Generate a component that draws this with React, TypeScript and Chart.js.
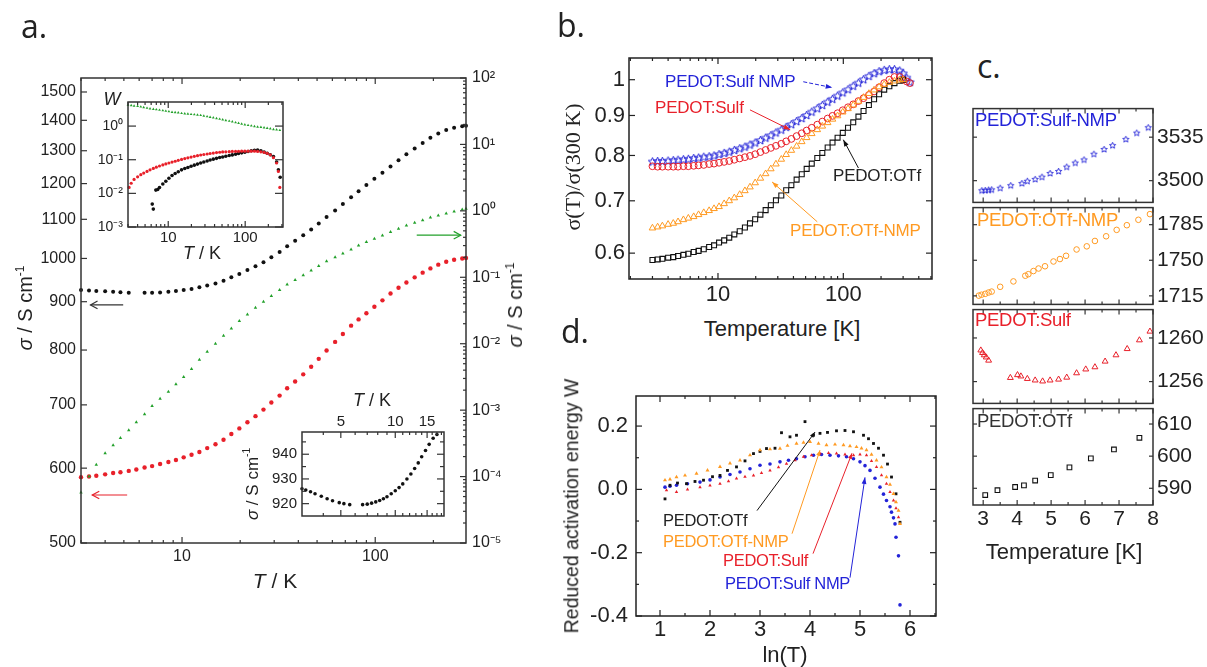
import React, { useEffect, useRef } from "react";
import { Chart, registerables } from "chart.js";
Chart.register(...registerables);

const SANS = '"Liberation Sans", Arial, sans-serif';
const SERIF = '"Liberation Serif", "Times New Roman", serif';
const HEAD = '"Open Sans", sans-serif';

const BLACK = "#111111";
const RED = "#e8202a";
const GREEN = "#22a02a";
const BLUE = "#2323d8";
const ORANGE = "#ff9a22";

// ================= Panel a (main) =================
const aTemp = [3.0, 3.3, 3.6, 4.0, 4.4, 4.8, 5.3, 5.8, 6.4, 7.0, 7.7, 8.5, 9.3, 10.2, 11.2, 12.3, 13.5, 14.9, 16.4, 18, 19.8, 21.8, 24, 26.4, 29, 32, 35, 38.5, 42.4, 46.6, 51, 56, 62, 68, 75, 82, 90, 99, 109, 120, 132, 145, 160, 176, 193, 212, 233, 256, 282, 295];
const aSigmaBlack = [926, 925, 924, 923, 922, 921, 920, null, 919.7, 920, 920.5, 922, 923.5, 926, 928.5, 932, 936, 941, 947, 955, 963, 972, 981, 991, 1003, 1016, 1030, 1044, 1058, 1073, 1089, 1106, 1124, 1142, 1161, 1178, 1196, 1214, 1232, 1251, 1270, 1289, 1307, 1325, 1342, 1356, 1367, 1375, 1380, 1382];
const aSigmaRed = [587, 588, 589, 591, 593, 594, 596, 598, 601, 603, 606, 609, 612, 616, 620, 624, 630, 636, 643, 652, 661, 671, 681, 692, 704, 716, 729, 741, 754, 768, 783, 799, 816, 832, 849, 862, 875, 889, 903, 918, 931, 943, 955, 966, 976, 985, 992, 997, 1000, 1001];
const aSigmaGreen = [5.75e-5, 1.0e-4, 1.51e-4, 2.24e-4, 2.95e-4, 3.8e-4, 5.0e-4, 6.6e-4, 8.7e-4, 1.15e-3, 1.48e-3, 1.9e-3, 2.45e-3, 3.16e-3, 4.17e-3, 5.75e-3, 7.6e-3, 0.010, 0.0132, 0.017, 0.0219, 0.0275, 0.0347, 0.0427, 0.0525, 0.0646, 0.0776, 0.0912, 0.107, 0.126, 0.148, 0.174, 0.2, 0.229, 0.263, 0.302, 0.339, 0.38, 0.427, 0.479, 0.537, 0.603, 0.661, 0.724, 0.794, 0.851, 0.912, 0.977, 1.047, 1.072];
const aXTicks = [10, 100];
const aXMinor = [3, 4, 5, 6, 7, 8, 9, 20, 30, 40, 50, 60, 70, 80, 90, 200];
const aYLeftTicks = [500, 600, 700, 800, 900, 1000, 1100, 1200, 1300, 1400, 1500];
const aYRightTicks = [1e-5, 1e-4, 1e-3, 1e-2, 1e-1, 1, 10, 100];

// inset W(T)
const wGreenT = [3.0, 3.3, 3.6, 4.0, 4.4, 4.8, 5.3, 5.8, 6.4, 7.0, 7.7, 8.5, 9.3, 10.2, 11.2, 12.3, 13.5, 14.9, 16.4, 18, 19.8, 21.8, 24, 26.4, 29, 32, 35, 38.5, 42.4, 46.6, 51, 56, 62, 68, 75, 82, 90, 99, 109, 120, 132, 145, 160, 176, 193, 212, 233, 256, 282];
const wGreen = [4.2, 4.1, 4.0, 3.9, 3.75, 3.6, 3.45, 3.3, 3.2, 3.1, 3.0, 2.9, 2.8, 2.7, 2.6, 2.55, 2.5, 2.4, 2.35, 2.3, 2.25, 2.2, 2.15, 2.1, 2.0, 1.92, 1.85, 1.78, 1.7, 1.62, 1.55, 1.48, 1.41, 1.35, 1.28, 1.22, 1.16, 1.1, 1.06, 1.02, 0.98, 0.95, 0.93, 0.9, 0.87, 0.84, 0.8, 0.78, 0.75];
const wRedT = [3.1, 3.3, 3.6, 4, 4.4, 4.8, 5.3, 5.8, 6.4, 7, 7.7, 8.5, 9.3, 10.2, 11.2, 12.3, 13.5, 14.9, 16.4, 18, 19.8, 21.8, 24, 26.4, 29, 32, 35, 38.5, 42.4, 46.6, 51, 56, 62, 68, 75, 82, 90, 99, 109, 120, 132, 145, 160, 176, 193, 212, 233, 256, 270, 282];
const wRed = [0.015, 0.02, 0.026, 0.031, 0.036, 0.04, 0.045, 0.05, 0.055, 0.06, 0.065, 0.07, 0.075, 0.08, 0.085, 0.09, 0.096, 0.102, 0.108, 0.114, 0.12, 0.126, 0.132, 0.138, 0.143, 0.148, 0.153, 0.158, 0.163, 0.167, 0.17, 0.172, 0.174, 0.176, 0.177, 0.178, 0.179, 0.18, 0.18, 0.18, 0.179, 0.177, 0.172, 0.165, 0.155, 0.14, 0.115, 0.08, 0.045, 0.015];
const wBlackT = [6.2, 6.4, 6.9, 7.3, 7.7, 8.5, 9.3, 10.2, 11.2, 12.3, 13.5, 14.9, 16.4, 18, 19.8, 21.8, 24, 26.4, 29, 32, 35, 38.5, 42.4, 46.6, 51, 56, 62, 68, 75, 82, 90, 99, 109, 120, 132, 145, 160, 176, 193, 212, 233, 256, 270, 285];
const wBlack = [0.0048, 0.0034, 0.0125, 0.013, 0.015, 0.019, 0.023, 0.028, 0.034, 0.039, 0.044, 0.05, 0.055, 0.059, 0.064, 0.069, 0.074, 0.08, 0.086, 0.092, 0.098, 0.104, 0.11, 0.116, 0.121, 0.127, 0.133, 0.139, 0.146, 0.153, 0.16, 0.168, 0.176, 0.185, 0.192, 0.195, 0.185, 0.17, 0.155, 0.14, 0.125, 0.085, 0.05, 0.03];
const wYTicks = [1e-3, 1e-2, 1e-1, 1];
const wXMinor = [3, 4, 5, 6, 7, 8, 9, 20, 30, 40, 50, 60, 70, 80, 90, 200, 300];

// inset low-T sigma
const lowT = [3.05, 3.2, 3.4, 3.6, 3.9, 4.2, 4.5, 4.9, 5.2, 5.6, 6.6, 7.0, 7.4, 7.8, 8.2, 8.6, 9.0, 9.5, 10.0, 10.5, 11.0, 11.6, 12.2, 12.8, 13.4, 14.0, 14.7, 15.4, 16.2, 17.0];
const lowSigma = [926, 925.5, 924.8, 924, 923, 922, 921.2, 920.4, 920, 919.6, 919.6, 919.8, 920.2, 920.7, 921.3, 922, 922.8, 924, 925.2, 926.5, 928, 930, 932, 934.2, 936.5, 939, 941.5, 944, 946.5, 948];
const lowXTicks = [5, 10, 15];
const lowXMinor = [4, 6, 7, 8, 9, 11, 12, 13, 14, 16, 17, 18];
const lowYTicks = [920, 930, 940];
const lowYMinor = [925, 935, 945];

// ================= Panel b =================
const bTemp = [3.0, 3.3, 3.6, 4.0, 4.4, 4.8, 5.3, 5.8, 6.4, 7.0, 7.7, 8.5, 9.3, 10.2, 11.2, 12.3, 13.5, 14.9, 16.4, 18, 19.8, 21.8, 24, 26.4, 29, 32, 35, 38.5, 42.4, 46.6, 51, 56, 62, 68, 75, 82, 90, 99, 109, 120, 132, 145, 160, 176, 193, 212, 233, 256, 282, 300, 320, 340];
const bOTf = [0.588, 0.589, 0.590, 0.592, 0.593, 0.595, 0.597, 0.599, 0.602, 0.604, 0.607, 0.611, 0.614, 0.619, 0.623, 0.628, 0.634, 0.640, 0.647, 0.655, 0.663, 0.672, 0.681, 0.691, 0.701, 0.711, 0.722, 0.733, 0.745, 0.757, 0.769, 0.781, 0.794, 0.806, 0.819, 0.831, 0.843, 0.855, 0.868, 0.882, 0.897, 0.912, 0.928, 0.944, 0.958, 0.971, 0.981, 0.99, 0.997, 1.0];
const bOTfNMP = [0.646, 0.648, 0.650, 0.653, 0.655, 0.658, 0.662, 0.665, 0.668, 0.672, 0.676, 0.680, 0.684, 0.688, 0.694, 0.700, 0.706, 0.713, 0.721, 0.729, 0.738, 0.748, 0.758, 0.769, 0.780, 0.791, 0.802, 0.812, 0.822, 0.833, 0.843, 0.853, 0.863, 0.872, 0.881, 0.89, 0.899, 0.909, 0.918, 0.928, 0.938, 0.949, 0.96, 0.97, 0.979, 0.986, 0.992, 0.996, 0.999, 1.0];
const bSulf = [0.775, 0.774, 0.774, 0.774, 0.774, 0.774, 0.775, 0.775, 0.776, 0.777, 0.778, 0.780, 0.781, 0.783, 0.785, 0.787, 0.790, 0.793, 0.796, 0.799, 0.803, 0.808, 0.813, 0.818, 0.823, 0.828, 0.834, 0.840, 0.847, 0.854, 0.861, 0.868, 0.876, 0.884, 0.892, 0.899, 0.906, 0.914, 0.922, 0.93, 0.939, 0.947, 0.956, 0.966, 0.978, 0.99, 1.0, 1.008, 1.008, 1.0, 0.995, 0.99];
const bSulfNMP = [0.785, 0.786, 0.786, 0.787, 0.788, 0.789, 0.790, 0.791, 0.793, 0.794, 0.796, 0.797, 0.799, 0.802, 0.805, 0.808, 0.812, 0.816, 0.820, 0.825, 0.830, 0.836, 0.842, 0.848, 0.855, 0.862, 0.869, 0.876, 0.884, 0.892, 0.9, 0.909, 0.918, 0.927, 0.936, 0.944, 0.953, 0.962, 0.971, 0.981, 0.99, 1.0, 1.01, 1.018, 1.024, 1.028, 1.03, 1.03, 1.026, 1.018, 1.005, 0.992];
const bXTicks = [10, 100];
const bXMinor = [2, 3, 4, 5, 6, 7, 8, 9, 20, 30, 40, 50, 60, 70, 80, 90, 200, 300, 400, 500];
const bYTicks = [0.6, 0.7, 0.8, 0.9, 1];

// ================= Panel c =================
const cSulfNMPT = [2.96, 3.06, 3.16, 3.25, 3.5, 3.81, 4.14, 4.30, 4.53, 4.73, 4.97, 5.22, 5.46, 5.71, 5.97, 6.26, 6.56, 6.81, 7.2, 7.52, 7.86];
const cSulfNMP = [3491.9, 3492.1, 3492.4, 3492.6, 3493.9, 3496.0, 3497.7, 3499.5, 3501.0, 3502.8, 3505.8, 3507.4, 3510.9, 3514.2, 3516.7, 3521.3, 3525.1, 3528.2, 3533.2, 3538.3, 3542.6];
const cOTfNMPT = [2.87, 2.95, 3.06, 3.16, 3.25, 3.5, 3.89, 4.24, 4.33, 4.48, 4.63, 4.82, 5.07, 5.26, 5.44, 5.75, 6.05, 6.29, 6.62, 6.93, 7.23, 7.57, 7.91];
const cOTfNMP = [1715.2, 1716.1, 1717.0, 1718.3, 1719.2, 1723.9, 1729.2, 1734.8, 1736.3, 1739.4, 1741.9, 1744.1, 1748.8, 1751.2, 1754.4, 1760.6, 1763.7, 1769.0, 1773.6, 1779.9, 1784.5, 1789.8, 1795.4];
const cSulfT = [2.93, 2.98, 3.03, 3.09, 3.16, 3.8, 4.01, 4.11, 4.3, 4.53, 4.75, 4.97, 5.22, 5.46, 5.75, 6.02, 6.29, 6.59, 6.91, 7.24, 7.6, 7.91];
const cSulf = [1258.87, 1258.64, 1258.43, 1258.23, 1257.94, 1256.35, 1256.61, 1256.49, 1256.26, 1256.12, 1256.03, 1256.12, 1256.2, 1256.38, 1256.78, 1257.13, 1257.33, 1257.85, 1258.43, 1259.0, 1259.8, 1260.6];
const cOTfT = [3.06, 3.42, 3.94, 4.2, 4.53, 4.99, 5.54, 6.17, 6.85, 7.6];
const cOTf = [587.9, 589.4, 590.4, 590.9, 592.4, 594.1, 596.5, 599.3, 602.1, 605.7];
const cXTicks = [3, 4, 5, 6, 7, 8];
const cXMinor = [3.5, 4.5, 5.5, 6.5, 7.5];
const cYTicks1 = [3500, 3535];
const cYTicks2 = [1715, 1750, 1785];
const cYTicks3 = [1256, 1260];
const cYTicks4 = [590, 600, 610];

// ================= Panel d =================
const dOTfX = [1.1, 1.2, 1.35, 1.53, 1.7, 1.87, 2.05, 2.2, 2.35, 2.53, 2.7, 2.87, 3.0, 3.13, 3.3, 3.43, 3.6, 3.73, 3.9, 4.07, 4.2, 4.35, 4.53, 4.7, 4.87, 5.07, 5.17, 5.27, 5.37, 5.47, 5.55, 5.63, 5.72, 5.8];
const dOTfW = [-0.03, 0.013, 0.02, 0.018, 0.025, 0.029, 0.04, 0.044, 0.06, 0.071, 0.09, 0.113, 0.12, 0.129, 0.13, 0.179, 0.166, 0.171, 0.214, 0.171, 0.177, 0.18, 0.185, 0.186, 0.182, 0.171, 0.16, 0.145, 0.13, 0.108, 0.08, 0.039, -0.014, -0.104];
const dOTfNMPX = [1.1, 1.2, 1.33, 1.5, 1.73, 1.95, 2.2, 2.4, 2.6, 2.8, 3.0, 3.2, 3.4, 3.55, 3.73, 3.87, 4.0, 4.17, 4.33, 4.5, 4.67, 4.8, 4.93, 5.03, 5.13, 5.23, 5.33, 5.43, 5.53, 5.6, 5.67, 5.72, 5.77, 5.8];
const dOTfNMPW = [0.029, 0.032, 0.039, 0.044, 0.05, 0.06, 0.071, 0.082, 0.092, 0.108, 0.124, 0.127, 0.129, 0.138, 0.145, 0.148, 0.15, 0.145, 0.14, 0.142, 0.14, 0.137, 0.134, 0.13, 0.124, 0.11, 0.092, 0.07, 0.039, 0.015, -0.014, -0.04, -0.067, -0.109];
const dSulfX = [1.13, 1.33, 1.55, 1.8, 2.0, 2.2, 2.37, 2.53, 2.7, 2.87, 3.03, 3.2, 3.37, 3.53, 3.7, 3.87, 4.03, 4.2, 4.37, 4.53, 4.7, 4.87, 5.0, 5.13, 5.23, 5.33, 5.43, 5.53, 5.6, 5.67, 5.72, 5.77];
const dSulfW = [-0.003, -0.008, 0.0, 0.007, 0.012, 0.018, 0.026, 0.034, 0.04, 0.044, 0.052, 0.06, 0.07, 0.081, 0.092, 0.103, 0.108, 0.113, 0.115, 0.113, 0.11, 0.108, 0.11, 0.108, 0.09, 0.071, 0.045, 0.018, -0.008, -0.035, -0.06, -0.088];
const dSulfNMPX = [1.1, 1.2, 1.33, 1.55, 1.8, 2.0, 2.2, 2.4, 2.6, 2.8, 3.0, 3.2, 3.4, 3.57, 3.73, 3.9, 4.07, 4.23, 4.4, 4.57, 4.73, 4.87, 5.0, 5.1, 5.2, 5.3, 5.4, 5.47, 5.53, 5.6, 5.63, 5.67, 5.7, 5.72, 5.77, 5.8];
const dSulfNMPW = [0.007, 0.01, 0.013, 0.018, 0.023, 0.03, 0.039, 0.047, 0.055, 0.065, 0.076, 0.08, 0.087, 0.092, 0.097, 0.103, 0.108, 0.11, 0.108, 0.106, 0.103, 0.097, 0.087, 0.075, 0.06, 0.035, 0.007, -0.015, -0.035, -0.055, -0.072, -0.09, -0.109, -0.151, -0.21, -0.365];
const dXTicks = [1, 2, 3, 4, 5, 6];
const dXMinor = [1.5, 2.5, 3.5, 4.5, 5.5, 6.5];
const dYTicks = [-0.4, -0.2, 0, 0.2];
const dYMinor = [-0.3, -0.1, 0.1];

// ================= helpers =================
const SUP: Record<string, string> = { "-": "⁻", "0": "⁰", "1": "¹", "2": "²", "3": "³", "4": "⁴", "5": "⁵", "6": "⁶", "7": "⁷", "8": "⁸", "9": "⁹" };
const pow10 = (v: number) => "10" + String(Math.round(Math.log10(v))).split("").map((c) => SUP[c]).join("");
const logMinors = (e0: number, e1: number) => {
  const out: number[] = [];
  for (let e = e0; e <= e1; e++) for (let m = 2; m <= 9; m++) out.push(m * Math.pow(10, e));
  return out;
};

type XY = { x: number; y: number };
const pairs = (xs: number[], ys: (number | null)[]): XY[] =>
  xs.flatMap((x, i) => (ys[i] == null || i >= ys.length ? [] : [{ x, y: ys[i] as number }]));

function starImage(r: number, color: string, lw: number) {
  const size = Math.ceil(2 * r + 2 * lw + 2);
  const c = document.createElement("canvas");
  c.width = size;
  c.height = size;
  const g = c.getContext("2d")!;
  g.strokeStyle = color;
  g.lineWidth = lw;
  g.beginPath();
  for (let i = 0; i < 10; i++) {
    const ang = -Math.PI / 2 + (i * Math.PI) / 5;
    const rr = i % 2 === 0 ? r : r * 0.45;
    const x = size / 2 + rr * Math.cos(ang);
    const y = size / 2 + rr * Math.sin(ang);
    if (i === 0) g.moveTo(x, y);
    else g.lineTo(x, y);
  }
  g.closePath();
  g.stroke();
  return c;
}

function pset(data: XY[], xAxisID: string, yAxisID: string, st: { style: any; r: number; color: string; open?: boolean; bw?: number }) {
  return {
    data, xAxisID, yAxisID, showLine: false, clip: false,
    pointStyle: st.style, pointRadius: st.r, pointHoverRadius: st.r,
    pointBackgroundColor: st.open ? "rgba(0,0,0,0)" : st.color,
    pointBorderColor: st.color,
    pointBorderWidth: st.open ? st.bw ?? 1 : 0,
    backgroundColor: st.color, borderColor: st.color,
  };
}

type AxisSpec = {
  id: string; type: "linear" | "logarithmic"; position: "left" | "right" | "top" | "bottom";
  min: number; max: number; size: number; ticks: number[]; fmt?: (v: number) => string;
  font?: number; pad?: number; display?: boolean;
};
function axisOpts(a: AxisSpec) {
  const shown = a.display !== false;
  return {
    type: a.type, position: a.position, min: a.min, max: a.max, display: shown,
    grid: { display: false, drawTicks: false }, border: { display: false },
    afterBuildTicks: (s: any) => { s.ticks = a.ticks.map((v) => ({ value: v })); },
    afterFit: (s: any) => {
      const sz = shown ? a.size : 0;
      if (s.isHorizontal()) s.height = sz; else s.width = sz;
    },
    ticks: {
      autoSkip: false, maxRotation: 0, minRotation: 0, padding: a.pad ?? 4, color: "#222",
      font: { family: SANS, size: a.font ?? 16 },
      callback: (v: any) => (a.fmt ? a.fmt(Number(v)) : String(v)),
    },
  };
}

type TickSpec = { scale: string; side: "top" | "bottom" | "left" | "right"; major?: number[]; minor?: number[]; majorLen?: number; minorLen?: number };
type ArrowSpec = { xs: string; ys: string; x1: number; y1: number; x2: number; y2: number; color: string; width?: number; dash?: number[]; head?: "open" | "filled"; headLen?: number };
type FrameSpec = { ticks: TickSpec[]; arrows?: ArrowSpec[]; color?: string; lineWidth?: number };

function framePlugin(f: FrameSpec) {
  return {
    id: "frameTicks",
    afterDatasetsDraw(chart: any) {
      const ctx = chart.ctx;
      const a = chart.chartArea;
      ctx.save();
      ctx.strokeStyle = f.color ?? "#333";
      ctx.lineWidth = f.lineWidth ?? 1.5;
      ctx.strokeRect(a.left, a.top, a.right - a.left, a.bottom - a.top);
      ctx.lineWidth = 1.2;
      for (const t of f.ticks) {
        const sc = chart.scales[t.scale];
        const groups: [number[], number][] = [[t.major ?? [], t.majorLen ?? 6], [t.minor ?? [], t.minorLen ?? 3]];
        for (const [vals, len] of groups)
          for (const v of vals) {
            const p = sc.getPixelForValue(v);
            ctx.beginPath();
            if (t.side === "bottom") { ctx.moveTo(p, a.bottom); ctx.lineTo(p, a.bottom - len); }
            else if (t.side === "top") { ctx.moveTo(p, a.top); ctx.lineTo(p, a.top + len); }
            else if (t.side === "left") { ctx.moveTo(a.left, p); ctx.lineTo(a.left + len, p); }
            else { ctx.moveTo(a.right, p); ctx.lineTo(a.right - len, p); }
            ctx.stroke();
          }
      }
      for (const ar of f.arrows ?? []) {
        const X1 = chart.scales[ar.xs].getPixelForValue(ar.x1);
        const Y1 = chart.scales[ar.ys].getPixelForValue(ar.y1);
        const X2 = chart.scales[ar.xs].getPixelForValue(ar.x2);
        const Y2 = chart.scales[ar.ys].getPixelForValue(ar.y2);
        ctx.strokeStyle = ar.color;
        ctx.fillStyle = ar.color;
        ctx.lineWidth = ar.width ?? 1;
        ctx.setLineDash(ar.dash ?? []);
        ctx.beginPath();
        ctx.moveTo(X1, Y1);
        ctx.lineTo(X2, Y2);
        ctx.stroke();
        ctx.setLineDash([]);
        const ang = Math.atan2(Y2 - Y1, X2 - X1);
        const L = ar.headLen ?? 8;
        const s = ar.head === "filled" ? 0.35 : 0.5;
        const p1 = [X2 - L * Math.cos(ang - s), Y2 - L * Math.sin(ang - s)];
        const p2 = [X2 - L * Math.cos(ang + s), Y2 - L * Math.sin(ang + s)];
        ctx.beginPath();
        if (ar.head === "filled") {
          ctx.moveTo(X2, Y2); ctx.lineTo(p1[0], p1[1]); ctx.lineTo(p2[0], p2[1]); ctx.closePath(); ctx.fill();
        } else {
          ctx.moveTo(p1[0], p1[1]); ctx.lineTo(X2, Y2); ctx.lineTo(p2[0], p2[1]); ctx.stroke();
        }
      }
      ctx.restore();
    },
  };
}

function makeConfig(spec: { padding: any; axes: AxisSpec[]; datasets: any[]; frame: FrameSpec }) {
  const scales: any = {};
  for (const ax of spec.axes) scales[ax.id] = axisOpts(ax);
  return {
    type: "scatter",
    data: { datasets: spec.datasets },
    options: {
      responsive: false, maintainAspectRatio: false, animation: false, events: [],
      layout: { padding: spec.padding, autoPadding: false },
      plugins: { legend: { display: false }, tooltip: { enabled: false }, title: { display: false } },
      scales,
    },
    plugins: [framePlugin(spec.frame)],
  } as any;
}

function ChartBox({ left, top, width, height, build }: { left: number; top: number; width: number; height: number; build: () => any }) {
  const ref = useRef<HTMLCanvasElement>(null);
  useEffect(() => {
    const chart = new Chart(ref.current as HTMLCanvasElement, build());
    return () => chart.destroy();
  }, []);
  return <canvas ref={ref} width={width} height={height} style={{ position: "absolute", left, top, width, height }} />;
}

function Txt({ x, y, children, size, color = "#222", family = SANS, anchor = "left", rotate = false, italic = false, spacing }: any) {
  const transform = rotate ? "translate(-50%,-50%) rotate(-90deg)" : anchor === "center" ? "translate(-50%,-50%)" : "translateY(-50%)";
  return (
    <div style={{ position: "absolute", left: x, top: y, transform, fontSize: size, fontFamily: family, color, whiteSpace: "nowrap", lineHeight: 1, fontStyle: italic ? "italic" : "normal", letterSpacing: spacing }}>
      {children}
    </div>
  );
}
const Sup = ({ children }: any) => <sup style={{ fontSize: "0.6em", verticalAlign: "0.7em", lineHeight: 0 }}>{children}</sup>;
const SigmaUnit = () => (<><i>σ</i> / S cm<Sup>-1</Sup></>);
const TK = () => (<><i>T</i> / K</>);

// ================= chart builders =================
const buildA = () => makeConfig({
  padding: { top: 78, left: 0, right: 0, bottom: 0 },
  axes: [
    { id: "x", type: "logarithmic", position: "bottom", min: 3, max: 295, size: 77, ticks: aXTicks, fmt: (v) => String(v), font: 16, pad: 4 },
    { id: "y", type: "logarithmic", position: "left", min: 500, max: 1552, size: 81, ticks: aYLeftTicks, fmt: (v) => String(v), font: 16, pad: 5 },
    { id: "y2", type: "logarithmic", position: "right", min: 1e-5, max: 100, size: 54, ticks: aYRightTicks, fmt: pow10, font: 16, pad: 6 },
  ],
  datasets: [
    pset(pairs(aTemp, aSigmaGreen), "x", "y2", { style: "triangle", r: 2, color: GREEN }),
    pset(pairs(aTemp, aSigmaRed), "x", "y", { style: "circle", r: 2.2, color: RED }),
    pset(pairs(aTemp, aSigmaBlack), "x", "y", { style: "circle", r: 2, color: BLACK }),
  ],
  frame: {
    ticks: [
      { scale: "x", side: "bottom", major: aXTicks, minor: aXMinor },
      { scale: "x", side: "top", major: aXTicks, minor: aXMinor },
      { scale: "y", side: "left", major: aYLeftTicks },
      { scale: "y2", side: "right", major: aYRightTicks, minor: logMinors(-5, 1) },
    ],
    arrows: [
      { xs: "x", ys: "y", x1: 4.96, y1: 893, x2: 3.36, y2: 893, color: "#333", width: 1.2 },
      { xs: "x", ys: "y", x1: 5.2, y1: 562, x2: 3.43, y2: 562, color: RED, width: 1.2 },
      { xs: "x", ys: "y2", x1: 164, y1: 0.43, x2: 277, y2: 0.43, color: GREEN, width: 1.2 },
    ],
  },
});

const buildW = () => makeConfig({
  padding: { top: 17, left: 0, right: 12, bottom: 0 },
  axes: [
    { id: "x", type: "logarithmic", position: "bottom", min: 3, max: 310, size: 43, ticks: aXTicks, fmt: (v) => String(v), font: 15, pad: 2 },
    { id: "y", type: "logarithmic", position: "left", min: 1e-3, max: 5.2, size: 38, ticks: wYTicks, fmt: pow10, font: 14, pad: 5 },
  ],
  datasets: [
    pset(pairs(wGreenT, wGreen), "x", "y", { style: "triangle", r: 1.6, color: GREEN }),
    pset(pairs(wRedT, wRed), "x", "y", { style: "circle", r: 1.6, color: RED }),
    pset(pairs(wBlackT, wBlack), "x", "y", { style: "circle", r: 1.8, color: BLACK }),
  ],
  frame: {
    ticks: [
      { scale: "x", side: "bottom", major: aXTicks, minor: wXMinor },
      { scale: "x", side: "top", major: aXTicks, minor: wXMinor },
      { scale: "y", side: "left", major: wYTicks, majorLen: 8 },
      { scale: "y", side: "right", major: wYTicks, majorLen: 8 },
    ],
  },
});

const buildLow = () => makeConfig({
  padding: { top: 0, left: 0, right: 6, bottom: 6 },
  axes: [
    { id: "x", type: "logarithmic", position: "top", min: 3.05, max: 18.6, size: 27, ticks: lowXTicks, fmt: (v) => String(v), font: 15, pad: 1 },
    { id: "y", type: "linear", position: "left", min: 915, max: 949, size: 42, ticks: lowYTicks, fmt: (v) => String(v), font: 15, pad: 5 },
  ],
  datasets: [pset(pairs(lowT, lowSigma), "x", "y", { style: "circle", r: 1.8, color: BLACK })],
  frame: {
    ticks: [
      { scale: "x", side: "top", major: lowXTicks, minor: lowXMinor },
      { scale: "x", side: "bottom", major: lowXTicks, minor: lowXMinor },
      { scale: "y", side: "left", major: lowYTicks, minor: lowYMinor, majorLen: 7, minorLen: 4 },
      { scale: "y", side: "right", major: lowYTicks, minor: lowYMinor, majorLen: 7, minorLen: 4 },
    ],
  },
});

const buildB = () => {
  const star = starImage(4.4, BLUE, 1);
  const bT50 = bTemp.slice(0, 50);
  return makeConfig({
    padding: { top: 58, left: 0, right: 8, bottom: 0 },
    axes: [
      { id: "x", type: "logarithmic", position: "bottom", min: 1.95, max: 510, size: 31, ticks: bXTicks, fmt: (v) => String(v), font: 22, pad: 3 },
      { id: "y", type: "logarithmic", position: "left", min: 0.556, max: 1.066, size: 89, ticks: bYTicks, fmt: (v) => (v === 1 ? "1" : v.toFixed(1)), font: 22, pad: 4 },
    ],
    datasets: [
      pset(pairs(bT50, bOTfNMP), "x", "y", { style: "triangle", r: 3.8, color: ORANGE, open: true, bw: 1 }),
      pset(pairs(bT50, bOTf), "x", "y", { style: "rect", r: 3.5, color: BLACK, open: true, bw: 1.1 }),
      pset(pairs(bTemp, bSulf), "x", "y", { style: "circle", r: 3.4, color: RED, open: true, bw: 1 }),
      pset(pairs(bTemp, bSulfNMP), "x", "y", { style: star, r: 4, color: BLUE }),
    ],
    frame: {
      color: "#222",
      ticks: [
        { scale: "x", side: "bottom", major: bXTicks, minor: bXMinor },
        { scale: "x", side: "top", major: bXTicks, minor: bXMinor },
        { scale: "y", side: "left", major: bYTicks },
        { scale: "y", side: "right", major: bYTicks },
      ],
      arrows: [
        { xs: "x", ys: "y", x1: 47.9, y1: 0.994, x2: 81.6, y2: 0.977, color: BLUE, dash: [4, 2], head: "filled", headLen: 7 },
        { xs: "x", ys: "y", x1: 18, y1: 0.915, x2: 37.7, y2: 0.863, color: RED, head: "filled", headLen: 7 },
        { xs: "x", ys: "y", x1: 132, y1: 0.771, x2: 100, y2: 0.838, color: BLACK, head: "filled", headLen: 7 },
        { xs: "x", ys: "y", x1: 62, y1: 0.658, x2: 27, y2: 0.74, color: ORANGE, head: "filled", headLen: 7 },
      ],
    },
  });
};

const buildC = (i: number) => () => {
  const star = starImage(3.3, BLUE, 0.9);
  const series = [
    { t: cSulfNMPT, v: cSulfNMP, st: { style: star, r: 3.3, color: BLUE }, min: 3482.5, max: 3558, ticks: cYTicks1 },
    { t: cOTfNMPT, v: cOTfNMP, st: { style: "circle", r: 2.8, color: ORANGE, open: true, bw: 1 }, min: 1706.6, max: 1801.8, ticks: cYTicks2 },
    { t: cSulfT, v: cSulf, st: { style: "triangle", r: 3.4, color: RED, open: true, bw: 1 }, min: 1254.0, max: 1262.6, ticks: cYTicks3 },
    { t: cOTfT, v: cOTf, st: { style: "rect", r: 3.3, color: BLACK, open: true, bw: 1.1 }, min: 584.8, max: 614.8, ticks: cYTicks4 },
  ][i];
  const last = i === 3;
  return makeConfig({
    padding: { top: 14, left: 13, right: 0, bottom: last ? 0 : 14 },
    axes: [
      { id: "x", type: "linear", position: "bottom", min: 2.7, max: 8.0, size: 40, ticks: cXTicks, fmt: (v) => String(v), font: 21, pad: 2, display: last },
      { id: "y", type: "linear", position: "right", min: series.min, max: series.max, size: 54, ticks: series.ticks, fmt: (v) => String(v), font: 21, pad: 4 },
    ],
    datasets: [pset(pairs(series.t, series.v), "x", "y", series.st as any)],
    frame: {
      color: "#333",
      ticks: [
        { scale: "x", side: "bottom", major: cXTicks, minor: cXMinor, majorLen: 5 },
        { scale: "x", side: "top", major: cXTicks, minor: cXMinor, majorLen: 5 },
        { scale: "y", side: "left", major: series.ticks, majorLen: 4 },
        { scale: "y", side: "right", major: series.ticks, majorLen: 4 },
      ],
    },
  });
};

const buildD = () => makeConfig({
  padding: { top: 26, left: 0, right: 14, bottom: 0 },
  axes: [
    { id: "x", type: "linear", position: "bottom", min: 0.52, max: 6.52, size: 54, ticks: dXTicks, fmt: (v) => String(v), font: 22, pad: 1 },
    { id: "y", type: "linear", position: "left", min: -0.4, max: 0.295, size: 96, ticks: dYTicks, fmt: (v) => v.toFixed(1), font: 22, pad: 8 },
  ],
  datasets: [
    pset(pairs(dOTfNMPX, dOTfNMPW), "x", "y", { style: "triangle", r: 2.3, color: ORANGE }),
    pset(pairs(dOTfX, dOTfW), "x", "y", { style: "rect", r: 2, color: BLACK }),
    pset(pairs(dSulfX, dSulfW), "x", "y", { style: "triangle", r: 2, color: RED }),
    pset(pairs(dSulfNMPX, dSulfNMPW), "x", "y", { style: "circle", r: 1.8, color: BLUE }),
  ],
  frame: {
    color: "#222",
    ticks: [
      { scale: "x", side: "bottom", major: dXTicks, minor: dXMinor },
      { scale: "x", side: "top", major: dXTicks, minor: dXMinor },
      { scale: "y", side: "left", major: dYTicks, minor: dYMinor },
      { scale: "y", side: "right", major: dYTicks, minor: dYMinor },
    ],
    arrows: [
      { xs: "x", ys: "y", x1: 2.94, y1: -0.067, x2: 4.1, y2: 0.181, color: BLACK, head: "filled", headLen: 6 },
      { xs: "x", ys: "y", x1: 3.64, y1: -0.14, x2: 4.2, y2: 0.124, color: ORANGE, head: "filled", headLen: 6 },
      { xs: "x", ys: "y", x1: 4.06, y1: -0.203, x2: 4.84, y2: 0.114, color: RED, head: "filled", headLen: 6 },
      { xs: "x", ys: "y", x1: 4.8, y1: -0.279, x2: 5.1, y2: 0.038, color: BLUE, head: "filled", headLen: 7 },
    ],
  },
});

const cGeom = [
  { top: 92, height: 127 },
  { top: 191, height: 130 },
  { top: 293, height: 127 },
  { top: 392, height: 153 },
];

export default function App() {
  return (
    <div style={{ position: "absolute", left: 0, top: 0, width: 1207, height: 667, background: "#fff", overflow: "hidden" }}>
      {/* panel a */}
      <ChartBox left={0} top={0} width={520} height={620} build={buildA} />
      <ChartBox left={90} top={85} width={205} height={185} build={buildW} />
      <ChartBox left={260} top={405} width={190} height={125} build={buildLow} />
      <Txt x={21} y={26} size={32} family={HEAD}>a.</Txt>
      <Txt x={25} y={308} size={20} rotate><SigmaUnit /></Txt>
      <Txt x={515} y={305} size={20} rotate><SigmaUnit /></Txt>
      <Txt x={275} y={580} size={21} anchor="center"><TK /></Txt>
      <Txt x={112} y={99} size={18} anchor="center" italic>W</Txt>
      <Txt x={202} y={253} size={18} anchor="center"><TK /></Txt>
      <Txt x={372} y={400} size={18} anchor="center"><TK /></Txt>
      <Txt x={252} y={484} size={17} rotate><SigmaUnit /></Txt>

      {/* panel b */}
      <ChartBox left={540} top={0} width={400} height={310} build={buildB} />
      <Txt x={557} y={25} size={32} family={HEAD}>b.</Txt>
      <Txt x={573} y={167} size={22} family={SERIF} rotate>σ(T)/σ(300 K)</Txt>
      <Txt x={782} y={329} size={22} anchor="center">Temperature [K]</Txt>
      <Txt x={665} y={81} size={17} color={BLUE} spacing={-0.2}>PEDOT:Sulf NMP</Txt>
      <Txt x={655} y={107} size={17} color={RED} spacing={-0.2}>PEDOT:Sulf</Txt>
      <Txt x={833} y={175} size={17} color="#222" spacing={-0.2}>PEDOT:OTf</Txt>
      <Txt x={790} y={230} size={17} color={ORANGE} spacing={-0.2}>PEDOT:OTf-NMP</Txt>

      {/* panel c */}
      {cGeom.map((g, i) => (
        <ChartBox key={i} left={960} top={g.top} width={247} height={g.height} build={buildC(i)} />
      ))}
      <Txt x={977} y={66} size={32} family={HEAD}>c.</Txt>
      <Txt x={975} y={120} size={18.5} color={BLUE} spacing={-0.3}>PEDOT:Sulf-NMP</Txt>
      <Txt x={977} y={220} size={18.5} color={ORANGE} spacing={-0.3}>PEDOT:OTf-NMP</Txt>
      <Txt x={975} y={320} size={18.5} color={RED} spacing={-0.3}>PEDOT:Sulf</Txt>
      <Txt x={977} y={421} size={18.5} color="#333" spacing={-0.3}>PEDOT:OTf</Txt>
      <Txt x={1064} y={552} size={22} anchor="center">Temperature [K]</Txt>

      {/* panel d */}
      <ChartBox left={540} top={370} width={410} height={300} build={buildD} />
      <Txt x={561} y={331} size={32} family={HEAD}>d.</Txt>
      <Txt x={572} y={506} size={19.5} rotate>Reduced activation energy W</Txt>
      <Txt x={785} y={655} size={22} anchor="center">ln(T)</Txt>
      <Txt x={663} y={520} size={16.5} color="#222" spacing={-0.3}>PEDOT:OTf</Txt>
      <Txt x={663} y={541} size={16.5} color={ORANGE} spacing={-0.3}>PEDOT:OTf-NMP</Txt>
      <Txt x={723} y={560} size={16.5} color={RED} spacing={-0.3}>PEDOT:Sulf</Txt>
      <Txt x={725} y={583} size={16.5} color={BLUE} spacing={-0.3}>PEDOT:Sulf NMP</Txt>
    </div>
  );
}
